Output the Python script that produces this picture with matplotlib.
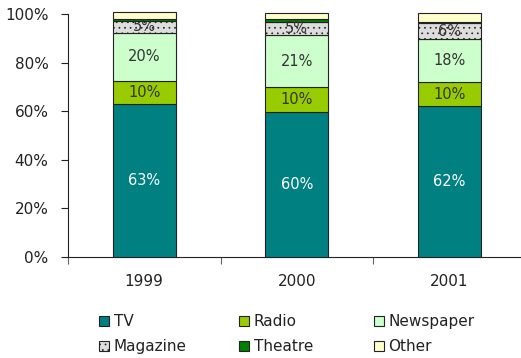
import matplotlib
matplotlib.use("Agg")
import matplotlib.pyplot as plt
from matplotlib.patches import Patch
import numpy as np

years = ["1999", "2000", "2001"]
series_names = ["TV", "Radio", "Newspaper", "Magazine", "Theatre", "Other"]
tv = [62.8, 59.8, 62.1]
radio = [9.8, 10.2, 9.9]
newspaper = [19.7, 21.2, 17.7]
magazine = [4.9, 5.4, 6.4]
theatre = [0.7, 1.4, 0.6]
other = [2.8, 2.6, 3.9]
values = [tv, radio, newspaper, magazine, theatre, other]
labelled = {"TV": True, "Radio": True, "Newspaper": True, "Magazine": True, "Theatre": False, "Other": False}

colors = ["#008080", "#99CC00", "#CCFFCC", "#DDDDDD", "#008000", "#FFFFCC"]
hatches = [None, None, None, "...", None, None]
text_colors = ["white", "#333333", "#333333", "#333333", None, None]

plt.rcParams['hatch.color'] = '#C4C4C4'
plt.rcParams['hatch.linewidth'] = 0.5

W, H = 521, 358
fig = plt.figure(figsize=(W / 100, H / 100), dpi=100)
ax = fig.add_axes([68 / W, (H - 257) / H, (525.5 - 68) / W, (257 - 14) / H])

x = np.arange(len(years))
bottom = np.zeros(len(years))
for name, vals, c, h, tc in zip(series_names, values, colors, hatches, text_colors):
    vals = np.array(vals)
    ax.bar(x, vals, bottom=bottom, width=0.41, color=c, edgecolor="#222222",
           linewidth=0.8, hatch=h, clip_on=False, zorder=3)
    if labelled[name]:
        for xi, b, v in zip(x, bottom, vals):
            ax.text(xi, b + v / 2, f"{round(v):d}%", ha="center", va="center",
                    color=tc, fontsize=10.5, zorder=4)
    bottom += vals

ax.set_xlim(-0.5, 2.5)
ax.set_ylim(0, 100)
ax.set_yticks(np.arange(0, 101, 20))
ax.set_yticklabels([f"{v}%" for v in range(0, 101, 20)], fontsize=11, color="#222222")
ax.set_xticks([-0.5, 0.5, 1.5, 2.5])
ax.set_xticklabels([])
ax.set_xticks(x, minor=True)
ax.set_xticklabels(years, minor=True, fontsize=11, color="#222222")
ax.tick_params(axis="x", which="minor", length=0, pad=12)
ax.tick_params(axis="x", which="major", length=5, color="#666666", direction="out")
ax.tick_params(axis="y", length=5, direction="out", color="#222222", pad=9)
for s in ["top", "right"]:
    ax.spines[s].set_visible(False)
ax.spines["left"].set_color("#222222")
ax.spines["bottom"].set_color("#222222")

handles = [Patch(facecolor=c, edgecolor="#222222", linewidth=0.8, hatch=h, label=n)
           for n, c, h in zip(series_names, colors, hatches)]
col_x = [99, 239, 374]
columns = [[0, 3], [1, 4], [2, 5]]
for cx, idxs in zip(col_x, columns):
    fig.legend([handles[i] for i in idxs], [series_names[i] for i in idxs],
               ncol=1, loc="upper left", bbox_to_anchor=(cx / W, 1 - 314 / H),
               frameon=False, fontsize=11, handlelength=0.65, handleheight=0.65,
               handletextpad=0.3, labelspacing=0.68, borderpad=0,
               borderaxespad=0, labelcolor="#222222")

fig.savefig("out.png", dpi=100)
